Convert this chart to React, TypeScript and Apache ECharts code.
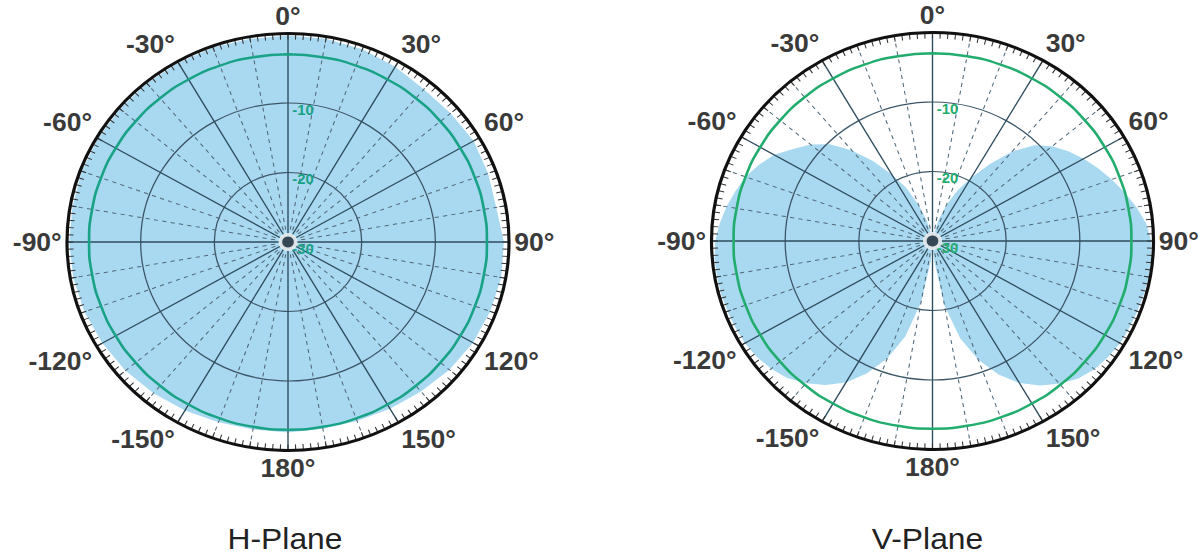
import React, { useEffect, useRef } from "react";
import * as echarts from "echarts";

// ---- data (dB, angle in degrees clockwise from top) ----
const H_ANGLES = [0, 10, 20, 30, 40, 50, 60, 70, 80, 90, 100, 110, 120, 130, 140, 150, 160, 170, 180, 190, 200, 210, 220, 230, 240, 250, 260, 270, 280, 290, 300, 310, 320, 330, 340, 350, 360];
const H_GAIN = [-0.3, -0.3, -0.5, -0.9, -1.3, -1.2, -0.9, -1.1, -1.3, -0.7, -0.6, -0.8, -1.0, -1.4, -1.9, -2.3, -2.6, -2.7, -2.6, -2.6, -2.4, -2.0, -1.6, -1.2, -0.9, -0.6, -0.4, -0.3, -0.3, -0.2, -0.2, -0.2, -0.2, -0.2, -0.2, -0.3, -0.3];

const V_ANGLES = [0, 5, 10, 15, 20, 25, 30, 35, 40, 45, 50, 55, 60, 65, 70, 75, 80, 85, 90, 95, 100, 105, 110, 115, 120, 125, 130, 135, 140, 145, 150, 155, 160, 165, 170, 175, 180, 185, 190, 195, 200, 205, 210, 215, 220, 225, 230, 235, 240, 245, 250, 255, 260, 265, 270, 275, 280, 285, 290, 295, 300, 305, 310, 315, 320, 325, 330, 335, 340, 345, 350, 355, 360];
const V_GAIN = [
  -30, -30, -29, -27, -24.5, -22, -19.5, -16.5, -13.2, -10.5, -8.8, -7.5, -6.3, -5.2, -4.1, -3.0, -1.9, -0.9,
  -0.3, -0.2, -0.2, -0.3, -0.4, -0.5, -0.6, -0.9, -1.3, -2.0, -3.2, -4.6, -6.4, -8.8, -11.8, -15.5, -20.5, -27,
  -30, -27, -21, -15.8, -12, -9, -6.5, -4.7, -3.3, -2.1, -1.4, -0.9, -0.6, -0.5, -0.4, -0.3, -0.3, -0.3,
  -0.5, -1.0, -1.6, -2.3, -3.0, -4.0, -5.2, -6.9, -8.4, -10.3, -13, -16, -19, -21.5, -24.5, -27, -29, -30, -30,
];

const REF_LEVEL = -3; // green reference circle (dB)
const R_MIN = -30;
const R_MAX = 0;
const R_STEP = 10;
const TITLES = ["H-Plane", "V-Plane"];

// ---- layout ----
const SX = 1.06;
const W = 1203;
const H = 556;
const CW = W / SX;
const R = 208.5;
const CENTERS: [number, number][] = [
  [288 / SX, 242],
  [932.5 / SX, 241],
];
const TITLE_X = [285 / SX, 927.5 / SX];

const FILL = "#a9d9f1";
const GREENS = ["#19a286", "#22ad6e"];

function fmtAngle(v: number) {
  if (v === 360) return "";
  return (v > 180 ? v - 360 : v) + "°";
}

export default function App() {
  const ref = useRef<HTMLDivElement>(null);
  useEffect(() => {
    if (!ref.current) return;
    const chart = echarts.init(ref.current, undefined, { renderer: "svg" });

    const polar: any[] = [];
    const angleAxis: any[] = [];
    const radiusAxis: any[] = [];
    const series: any[] = [];

    [0, 1].forEach((i) => {
      polar.push({ center: CENTERS[i], radius: R });
    });
    [0, 1].forEach((i) => {
      polar.push({ center: CENTERS[i], radius: R });
    });

    [0, 1].forEach((i) => {
      angleAxis.push({
        polarIndex: i,
        type: "value",
        min: 0,
        max: 360,
        interval: 30,
        startAngle: 90,
        clockwise: true,
        z: 3,
        axisLine: { show: true, lineStyle: { color: "#111", width: 3 } },
        axisTick: { show: false },
        axisLabel: {
          formatter: fmtAngle,
          fontSize: 25,
          fontWeight: "bold",
          color: "#3a3a3a",
          fontFamily: "Liberation Sans, Arial, sans-serif",
          margin: 5,
        },
        splitLine: { show: true, lineStyle: { color: "#2e4d5e", width: 1.3 } },
        minorTick: { show: false, splitNumber: 3 },
        minorSplitLine: { show: true, lineStyle: { color: "#4f6877", type: [4, 4], width: 1 } },
      });
      radiusAxis.push({
        polarIndex: i,
        type: "value",
        min: R_MIN,
        max: R_MAX,
        interval: R_STEP,
        z: 3,
        axisLine: { show: false },
        axisTick: { show: false },
        axisLabel: {
          color: GREENS[i],
          fontSize: 14,
          fontWeight: "bold",
          fontFamily: "Liberation Sans, Arial, sans-serif",
          formatter: (v: number) => (v === R_MAX ? "" : String(v)),
          margin: -4,
          align: "left",
          verticalAlign: "top",
        },
        splitLine: { show: true, lineStyle: { color: "#3b5566", width: 1.2 } },
      });
    });
    [0, 1].forEach((i) => {
      angleAxis.push({
        polarIndex: i + 2,
        type: "value",
        min: 0,
        max: 360,
        interval: 2,
        startAngle: 90,
        clockwise: true,
        z: 3,
        axisLine: { show: false },
        axisTick: { show: true, inside: true, length: 6, lineStyle: { color: "#333", width: 1 } },
        axisLabel: { show: false },
        splitLine: { show: false },
      });
      radiusAxis.push({
        polarIndex: i + 2,
        type: "value",
        min: R_MIN,
        max: R_MAX,
        show: false,
      });
    });

    const gains = [
      { angles: H_ANGLES, vals: H_GAIN },
      { angles: V_ANGLES, vals: V_GAIN },
    ];
    gains.forEach((g, i) => {
      series.push({
        type: "line",
        coordinateSystem: "polar",
        polarIndex: i,
        data: g.angles.map((a, k) => [g.vals[k], a]),
        symbol: "none",
        lineStyle: { width: 0 },
        areaStyle: { color: FILL, opacity: 1, origin: "start" },
        z: 1,
        silent: true,
      });
      series.push({
        type: "line",
        coordinateSystem: "polar",
        polarIndex: i,
        data: H_ANGLES.map((a) => [REF_LEVEL, a]),
        symbol: "none",
        smooth: true,
        lineStyle: { width: 2.5, color: GREENS[i] },
        z: 5,
        silent: true,
      });
      series.push({
        type: "scatter",
        coordinateSystem: "polar",
        polarIndex: i,
        data: [[R_MIN, 0]],
        symbol: "emptyCircle",
        symbolSize: 18,
        itemStyle: { borderColor: "#4a6676", borderWidth: 1, color: "transparent" },
        z: 6,
        silent: true,
      });
      series.push({
        type: "scatter",
        coordinateSystem: "polar",
        polarIndex: i,
        data: [[R_MIN, 0]],
        symbolSize: 11,
        itemStyle: { color: "#0b2030" },
        z: 7,
        silent: true,
      });
    });

    chart.setOption({
      animation: false,
      backgroundColor: "#ffffff",
      polar,
      angleAxis,
      radiusAxis,
      series,
      graphic: TITLES.map((t, i) => ({
        type: "text",
        x: TITLE_X[i],
        y: 539,
        style: {
          text: t,
          fontSize: 30,
          fontFamily: "Liberation Sans, Arial, sans-serif",
          fill: "#222",
          textAlign: "center",
          textVerticalAlign: "middle",
        },
      })),
    });
    return () => chart.dispose();
  }, []);

  return (
    <div style={{ position: "fixed", left: 0, top: 0, width: W, height: H, overflow: "hidden", background: "#fff" }}>
      <div
        ref={ref}
        style={{ width: CW, height: H, transform: `scaleX(${SX})`, transformOrigin: "0 0" }}
      />
    </div>
  );
}
